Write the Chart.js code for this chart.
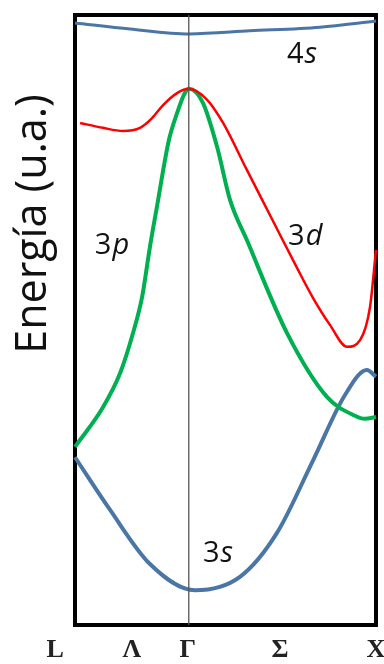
<!DOCTYPE html>
<html lang="es">
<head>
    <meta charset="UTF-8">
    <title>Bandas de energía</title>
    <script src="https://cdn.jsdelivr.net/npm/chart.js"></script>
    <style>
        html, body { margin: 0; padding: 0; background: #fff; }
        .chart-box { width: 384px; height: 664px; }
    </style>
</head>
<body>
    <div class="chart-box">
        <canvas id="bandChart"></canvas>
    </div>
    <script>
        // Puntos de simetría (eje k)
        const kTickValues = [-0.066, 0.189, 0.375, 0.681, 1];
        const kTickLabels = ['L', 'Λ', 'Γ', 'Σ', 'X'];
        const gammaK = 0.378;

        // Bandas: k (0 = L, 1 = X) y energía (u.a., 0..100)
        const band4sK = [0, 0.183, 0.379, 0.581, 0.814, 1];
        const band4sE = [98.7, 97.7, 96.9, 97.4, 98.0, 99.0];

        const band3dK = [0.017, 0.093, 0.159, 0.216, 0.256, 0.292, 0.339, 0.379, 0.439, 0.492, 0.571, 0.654, 0.738, 0.791, 0.847, 0.904, 0.947, 0.98, 1];
        const band3dE = [82.3, 81.5, 81.0, 81.5, 83.1, 85.2, 87.2, 87.9, 86.1, 82.3, 74.6, 66.6, 58.5, 53.6, 49.2, 45.6, 46.7, 52.1, 61.5];

        const band3pK = [0, 0.093, 0.15, 0.193, 0.223, 0.249, 0.272, 0.312, 0.339, 0.365, 0.379, 0.425, 0.472, 0.515, 0.571, 0.704, 0.837, 0.93, 0.963, 1];
        const band3pE = [29.2, 35.7, 41.3, 47.9, 53.8, 62.0, 68.5, 79.5, 83.9, 87.2, 87.9, 85.6, 78.4, 69.7, 63.1, 47.9, 37.4, 34.3, 33.8, 34.1];

        const band3sK = [0, 0.116, 0.249, 0.399, 0.548, 0.671, 0.791, 0.897, 0.97, 1];
        const band3sE = [27.5, 18.9, 10.0, 5.7, 7.9, 15.1, 27.0, 37.7, 41.8, 40.7];

        // Etiquetas de orbitales (número + letra en cursiva)
        const orbitalLabels = [
            { num: '4', sub: 's', k: 0.704, e: 92.1 },
            { num: '3', sub: 'd', k: 0.708, e: 62.3 },
            { num: '3', sub: 'p', k: 0.066, e: 60.9 },
            { num: '3', sub: 's', k: 0.425, e: 10.3 }
        ];

        const toPoints = (ks, es) => ks.map((k, i) => ({ x: k, y: es[i] }));

        const bandLine = (label, ks, es, color, width) => ({
            label,
            data: toPoints(ks, es),
            borderColor: color,
            borderWidth: width,
            pointRadius: 0,
            fill: false,
            cubicInterpolationMode: 'monotone',
            clip: false
        });

        // Marco negro del gráfico
        const framePlugin = {
            id: 'frame',
            beforeDatasetsDraw(chart) {
                const { ctx, chartArea: a } = chart;
                ctx.save();
                ctx.strokeStyle = '#000';
                ctx.lineWidth = 4;
                ctx.strokeRect(a.left, a.top, a.right - a.left, a.bottom - a.top);
                ctx.restore();
            }
        };

        // Título del eje y y nombres de las bandas
        const textPlugin = {
            id: 'texts',
            afterDatasetsDraw(chart) {
                const { ctx, scales } = chart;
                ctx.save();
                ctx.fillStyle = '#111';
                ctx.textBaseline = 'alphabetic';

                ctx.save();
                ctx.translate(46, 224);
                ctx.rotate(-Math.PI / 2);
                ctx.textAlign = 'center';
                ctx.font = '43px "Open Sans"';
                ctx.fillText('Energía (u.a.)', 0, 0);
                ctx.restore();

                ctx.textAlign = 'left';
                orbitalLabels.forEach(o => {
                    const x = scales.x.getPixelForValue(o.k);
                    const y = scales.y.getPixelForValue(o.e);
                    ctx.font = '29px "Open Sans"';
                    ctx.fillText(o.num, x, y);
                    const w = ctx.measureText(o.num).width;
                    ctx.font = 'italic 29px "Open Sans"';
                    ctx.fillText(o.sub, x + w + 1, y);
                });
                ctx.restore();
            }
        };

        new Chart(document.getElementById('bandChart'), {
            type: 'line',
            data: {
                datasets: [
                    {
                        label: 'Γ',
                        data: [{ x: gammaK, y: 0 }, { x: gammaK, y: 100 }],
                        borderColor: '#555',
                        borderWidth: 1.3,
                        pointRadius: 0,
                        tension: 0
                    },
                    bandLine('4s', band4sK, band4sE, '#4a76a6', 3),
                    bandLine('3d', band3dK, band3dE, '#ff0000', 2.5),
                    bandLine('3p', band3pK, band3pE, '#00b050', 4),
                    bandLine('3s', band3sK, band3sE, '#4a76a6', 4)
                ]
            },
            options: {
                responsive: true,
                maintainAspectRatio: false,
                animation: false,
                layout: { padding: { left: 75, right: 8, top: 15, bottom: 0 } },
                plugins: {
                    legend: { display: false },
                    tooltip: { enabled: false }
                },
                scales: {
                    x: {
                        type: 'linear',
                        min: 0,
                        max: 1,
                        grid: { display: false, drawTicks: true, tickLength: 11 },
                        border: { display: false },
                        afterBuildTicks: scale => {
                            scale.ticks = kTickValues.map(v => ({ value: v }));
                        },
                        afterFit: scale => {
                            scale.paddingLeft = 0;
                            scale.paddingRight = 0;
                        },
                        ticks: {
                            autoSkip: false,
                            maxRotation: 0,
                            padding: 1,
                            color: '#222',
                            font: { family: '"Liberation Serif"', size: 26, weight: 'bold', lineHeight: 1 },
                            callback: (value, index) => kTickLabels[index]
                        }
                    },
                    y: {
                        type: 'linear',
                        min: 0,
                        max: 100,
                        display: false
                    }
                }
            },
            plugins: [framePlugin, textPlugin]
        });
    </script>
</body>
</html>
